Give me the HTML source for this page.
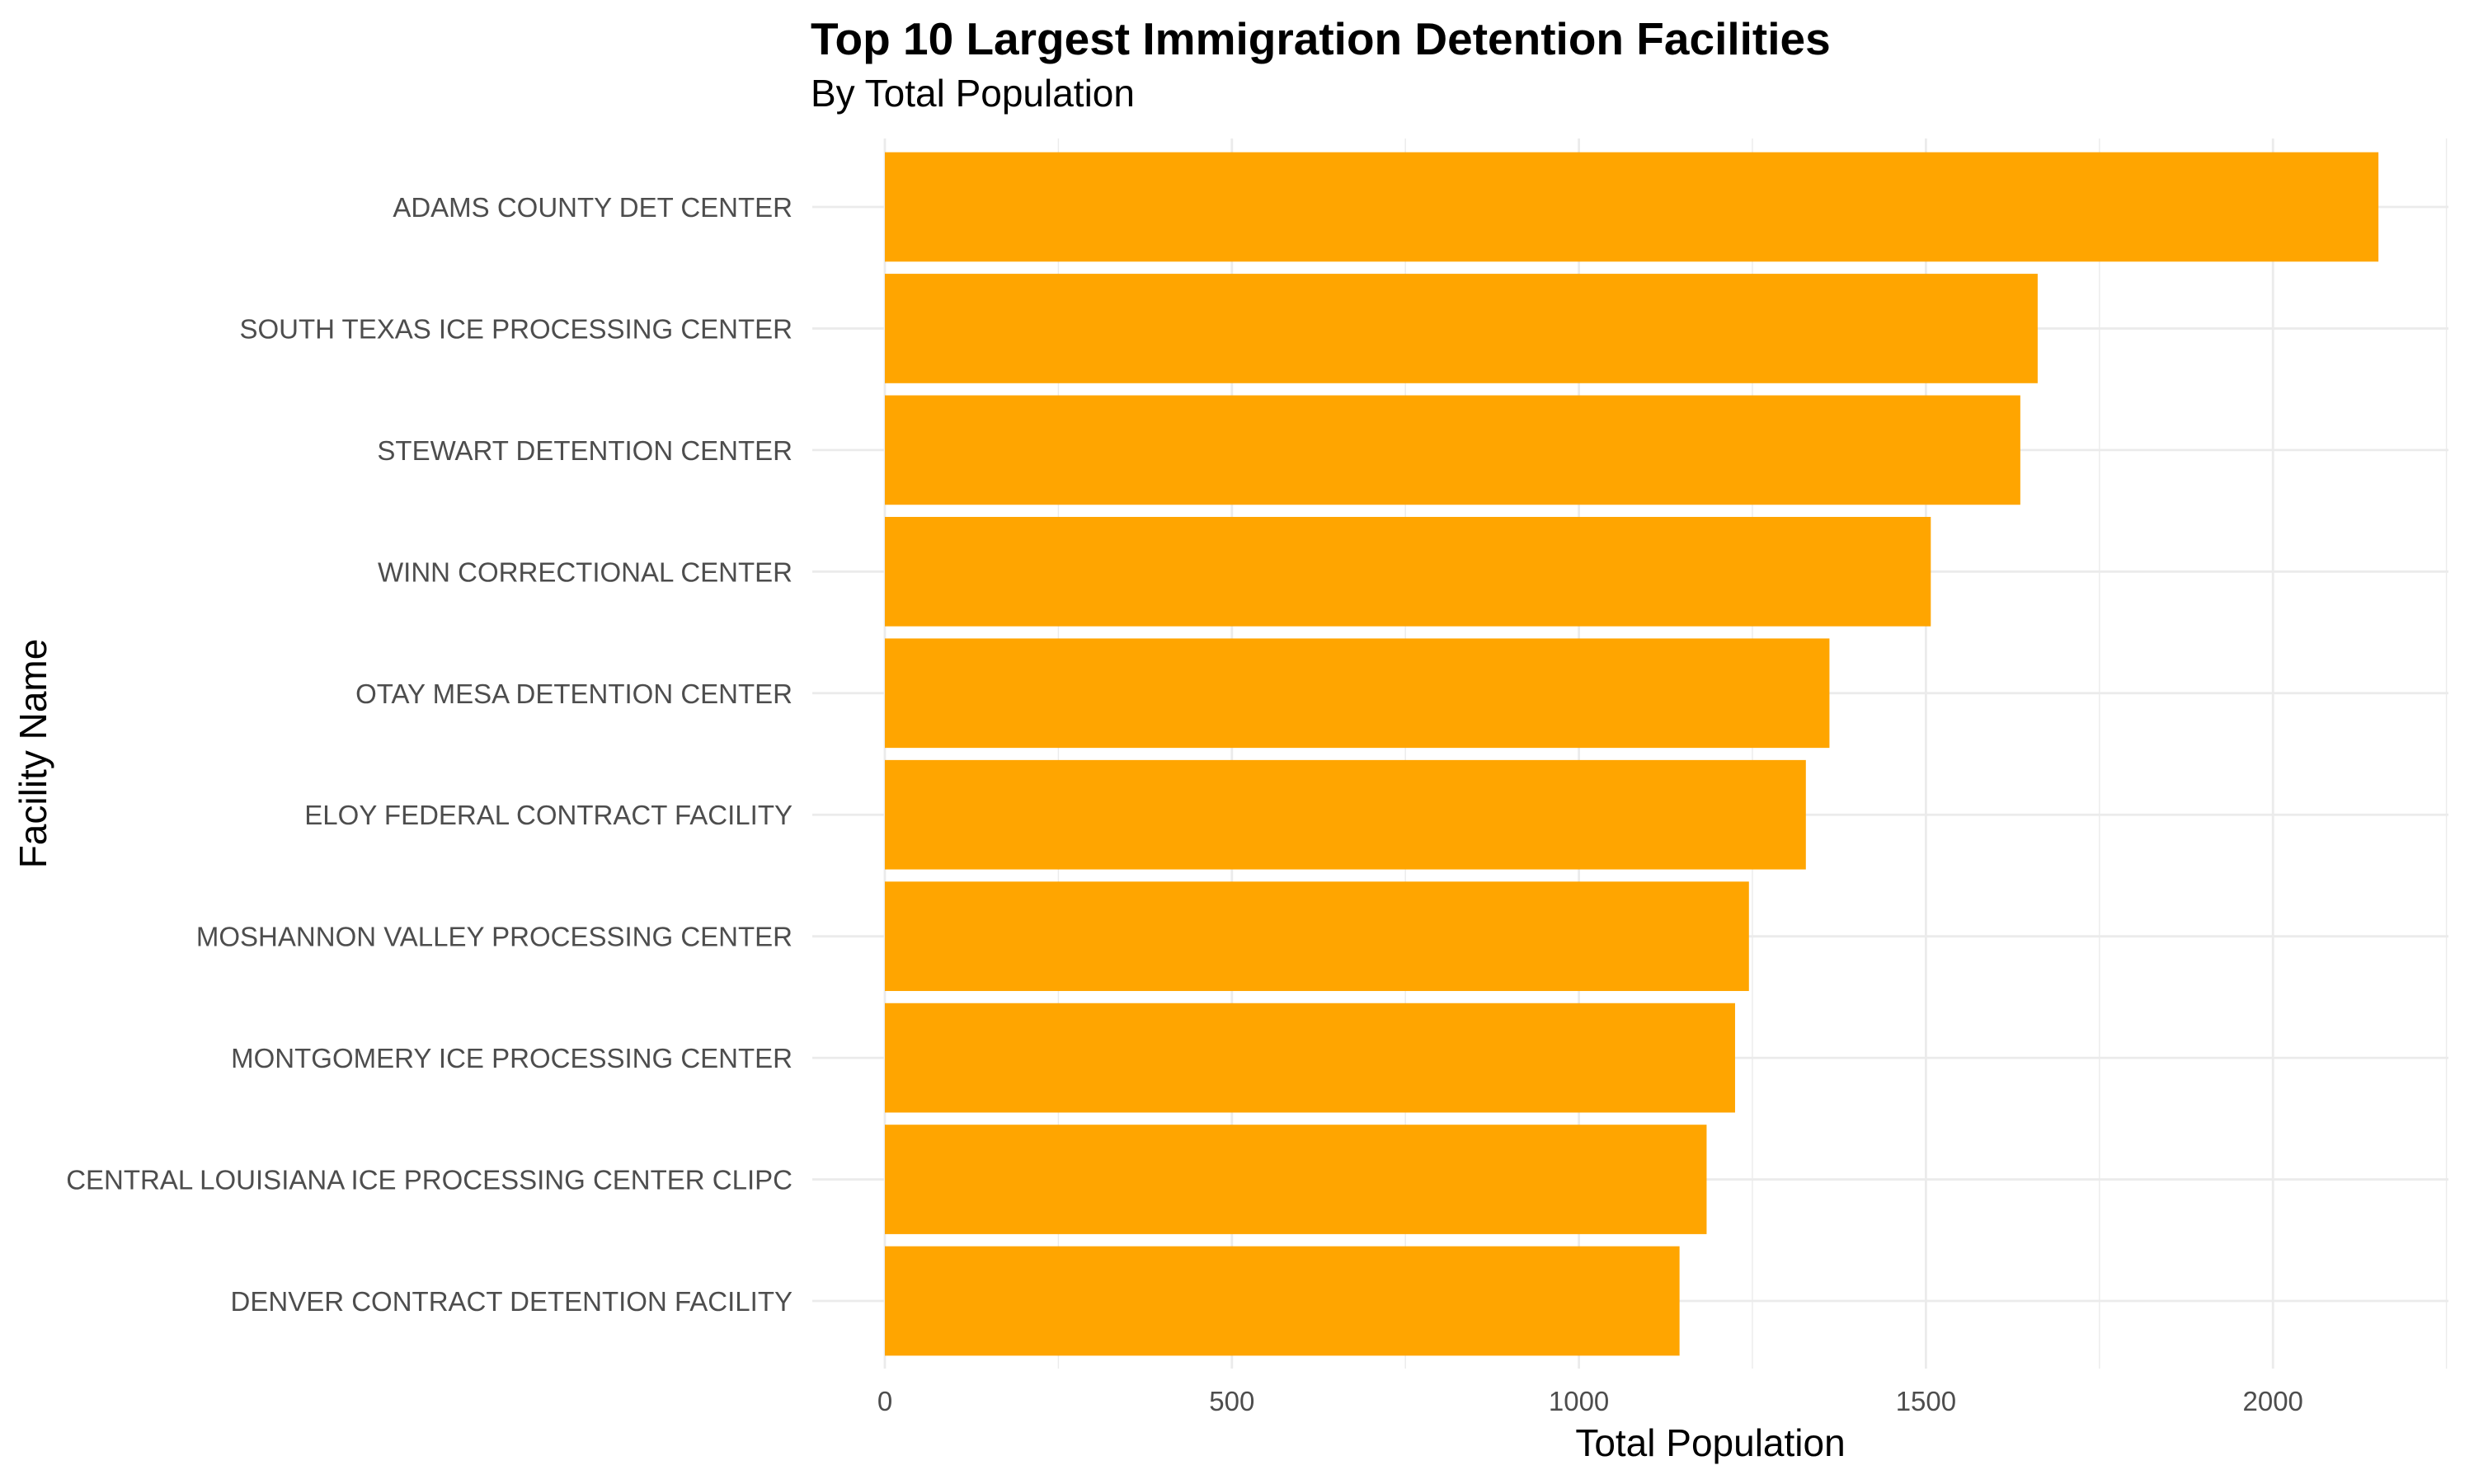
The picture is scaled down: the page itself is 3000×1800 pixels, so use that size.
<!DOCTYPE html>
<html><head><meta charset="utf-8"><style>
body{margin:0;background:#fff}
svg{display:block;font-family:"Liberation Sans",Arial,sans-serif}
</style></head><body>
<svg id="chart" width="3000" height="1800" viewBox="0 0 3000 1800">
<text x="983" y="66" font-size="55" font-weight="bold" fill="#000">Top 10 Largest Immigration Detention Facilities</text>
<text x="983" y="129" font-size="46" fill="#000">By Total Population</text>
<g id="grid"></g><g id="bars"></g><g id="ylabels"></g><g id="xlabels"></g>
<text x="2074" y="1766" font-size="46" text-anchor="middle" fill="#000">Total Population</text>
<text transform="translate(56,914) rotate(-90)" font-size="46" text-anchor="middle" fill="#000">Facility Name</text>
</svg>
<script>
const categories=["ADAMS COUNTY DET CENTER","SOUTH TEXAS ICE PROCESSING CENTER","STEWART DETENTION CENTER","WINN CORRECTIONAL CENTER","OTAY MESA DETENTION CENTER","ELOY FEDERAL CONTRACT FACILITY","MOSHANNON VALLEY PROCESSING CENTER","MONTGOMERY ICE PROCESSING CENTER","CENTRAL LOUISIANA ICE PROCESSING CENTER CLIPC","DENVER CONTRACT DETENTION FACILITY"];
const values=[2152,1661,1636,1507,1361,1327,1245,1225,1184,1145];
const xTicks=[0,500,1000,1500,2000];
const xMinor=[250,750,1250,1750,2250];
const NS="http://www.w3.org/2000/svg";
const panelL=985,panelR=2969,panelT=168,panelB=1660;
const x0=1073,pxPerUnit=420.8/500;
function xs(v){return x0+v*pxPerUnit;}
const firstC=251,step=(1578-251)/9,barH=step*0.9;
function ys(i){return firstC+i*step;}
function mk(tag,attrs,parent){const e=document.createElementNS(NS,tag);for(const k in attrs)e.setAttribute(k,attrs[k]);parent.appendChild(e);return e;}
const grid=document.getElementById('grid'),bars=document.getElementById('bars'),yl=document.getElementById('ylabels'),xl=document.getElementById('xlabels');
xMinor.forEach(v=>{const l=mk('line',{x1:xs(v),x2:xs(v),y1:panelT,y2:panelB,stroke:'#ebebeb','stroke-width':1.4},grid);

});
xTicks.forEach(v=>{const l=mk('line',{x1:xs(v),x2:xs(v),y1:panelT,y2:panelB,stroke:'#ebebeb','stroke-width':2.8},grid);


const t=mk('text',{x:xs(v),y:1711,'font-size':33,'text-anchor':'middle',fill:'#4d4d4d'},xl);t.textContent=v;

});
categories.forEach((c,i)=>{const l=mk('line',{x1:panelL,x2:panelR,y1:ys(i),y2:ys(i),stroke:'#ebebeb','stroke-width':2.8},grid);


const r=mk('rect',{x:xs(0),y:ys(i)-barH/2,width:xs(values[i])-xs(0),height:barH,fill:'#ffa500'},bars);


const t=mk('text',{x:961,y:ys(i)+12,'font-size':33,'text-anchor':'end',fill:'#4d4d4d'},yl);t.textContent=c;

});
</script>
</body></html>
